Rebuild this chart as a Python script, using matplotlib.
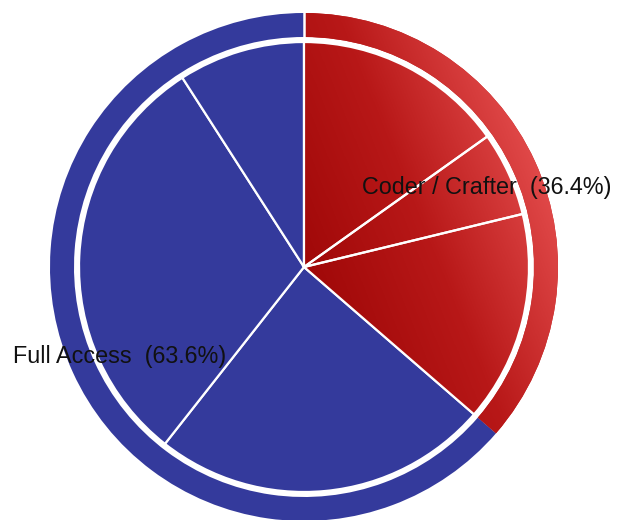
import matplotlib
matplotlib.use("Agg")
import matplotlib.pyplot as plt
import numpy as np
from matplotlib.colors import LinearSegmentedColormap

# outer ring groups
groups = ["Coder / Crafter", "Full Access"]
group_values = [12, 21]
# inner slices (first three belong to Coder / Crafter)
slice_values = [5, 2, 5, 8, 10, 3]
slice_group = [0, 0, 0, 1, 1, 1]

BLUE = "#343a9c"
red_cmap = LinearSegmentedColormap.from_list("reds", ["#a00808", "#b81818", "#e04848"])

W, H = 617, 520
cx, cy, R = 304, 267, 254  # pixel centre / outer radius

fig = plt.figure(figsize=(W / 100, H / 100), dpi=100)
ax = fig.add_axes([0, 0, 1, 1])

ring_width = 24 / R
pie_r = 225 / R

outer, _ = ax.pie(group_values, radius=1.0, startangle=90, counterclock=False,
                  colors=["#c02020", BLUE],
                  wedgeprops=dict(width=ring_width, edgecolor="none", linewidth=0))
inner, _ = ax.pie(slice_values, radius=pie_r, startangle=90, counterclock=False,
                  colors=["#c02020" if g == 0 else BLUE for g in slice_group],
                  wedgeprops=dict(edgecolor="white", linewidth=1.6))

ax.set_xlim(-cx / R, (W - cx) / R)
ax.set_ylim(-(H - cy) / R, cy / R)
ax.set_aspect("equal")
ax.axis("off")

# gradient fill for the red pieces
xs = np.linspace(-0.2, 1.05, 300)
ys = np.linspace(-1.05, 1.05, 400)
X, Y = np.meshgrid(xs, ys)
ang = np.deg2rad(22)
T = (X * np.cos(ang) + Y * np.sin(ang)) / 1.0
T = np.clip(T, 0, 1)
red_patches = [outer[0]] + [w for w, g in zip(inner, slice_group) if g == 0]
for p in red_patches:
    im = ax.imshow(T, cmap=red_cmap, extent=(xs[0], xs[-1], ys[0], ys[-1]),
                   origin="lower", vmin=0, vmax=1, interpolation="bilinear",
                   zorder=p.get_zorder() + 0.1)
    im.set_clip_path(p)
for w in inner[:3]:
    w.set_zorder(w.get_zorder() + 0.2)
    w.set_facecolor("none")

# white cut at top of the ring
ax.plot([0, 0], [1 - ring_width - 0.01, 1.01], color="white", lw=1.8, zorder=5)

ax.set_xlim(-cx / R, (W - cx) / R)
ax.set_ylim(-(H - cy) / R, cy / R)

font = dict(family=["Liberation Sans", "DejaVu Sans"], fontsize=16.8, color="#111111")
ax.text((362 - cx) / R, (cy - 188) / R, "%s  (%.1f%%)" % (groups[0], 100 * group_values[0] / sum(group_values)),
        ha="left", va="center", zorder=10, **font)
ax.text((13 - cx) / R, (cy - 357) / R, "%s  (%.1f%%)" % (groups[1], 100 * group_values[1] / sum(group_values)),
        ha="left", va="center", zorder=10, **font)

fig.savefig("out.png", dpi=100)
